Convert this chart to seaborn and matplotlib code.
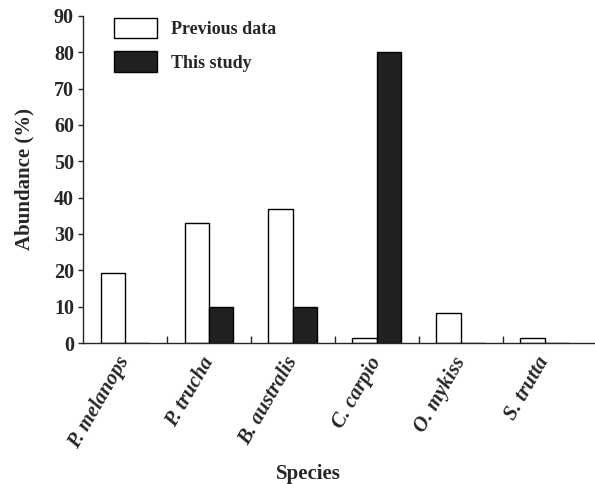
import pandas as pd
import numpy as np
import matplotlib
matplotlib.use("Agg")
import matplotlib.pyplot as plt
import seaborn as sns
from matplotlib.ticker import FixedLocator

species = ["P. melanops", "P. trucha", "B. australis", "C. carpio", "O. mykiss", "S. trutta"]
previous_data = [19.2, 33.0, 37.0, 1.3, 8.2, 1.3]
this_study = [0.0, 10.0, 10.0, 80.0, 0.0, 0.0]
series_names = ["Previous data", "This study"]

df = pd.DataFrame({
    "Species": species * 2,
    "Abundance": previous_data + this_study,
    "Source": [series_names[0]] * len(species) + [series_names[1]] * len(species),
})

sns.set_style("ticks")
plt.rcParams["font.family"] = ["Liberation Serif", "DejaVu Serif"]
plt.rcParams["font.weight"] = "bold"

fig = plt.figure(figsize=(5.95, 4.84), dpi=100)
ax = fig.add_axes([0.1395, 0.2913, 0.8605, 0.6757])

sns.barplot(
    data=df, x="Species", y="Abundance", hue="Source",
    palette=["white", "#231f20"], edgecolor="black", linewidth=1.0,
    width=0.58, ax=ax, errorbar=None,
)

ax.set_xlim(-0.5, 5.6)
ax.set_ylim(0, 90)
ax.set_yticks(np.arange(0, 91, 10))
ax.tick_params(axis="y", direction="out", length=3.5, width=1, labelsize=14.5, pad=3)
for t in ax.get_yticklabels():
    t.set_fontweight("bold")

# species labels at group centres, boundary ticks pointing inward
ax.set_xticks(range(len(species)))
ax.set_xticklabels(species, rotation=60, ha="right", va="center", rotation_mode="anchor",
                   fontsize=15, fontstyle="italic", fontweight="bold")
ax.tick_params(axis="x", which="major", length=0, pad=11)
ax.xaxis.set_minor_locator(FixedLocator(np.arange(0.5, 5, 1)))
ax.tick_params(axis="x", which="minor", direction="in", length=5, width=1)

ax.set_xlabel("Species", fontsize=15, fontweight="bold")
ax.xaxis.set_label_coords(0.44, -0.37)
ax.set_ylabel("Abundance (%)", fontsize=15, fontweight="bold", labelpad=14)

for s in ["top", "right"]:
    ax.spines[s].set_visible(False)
for s in ["left", "bottom"]:
    ax.spines[s].set_linewidth(1.0)

leg = ax.legend(frameon=False, loc="upper left", bbox_to_anchor=(0.028, 1.045),
                fontsize=13, handlelength=2.4, handleheight=1.4,
                handletextpad=0.8, labelspacing=0.72)
for t in leg.get_texts():
    t.set_fontweight("bold")

fig.savefig("out.png", dpi=100)
